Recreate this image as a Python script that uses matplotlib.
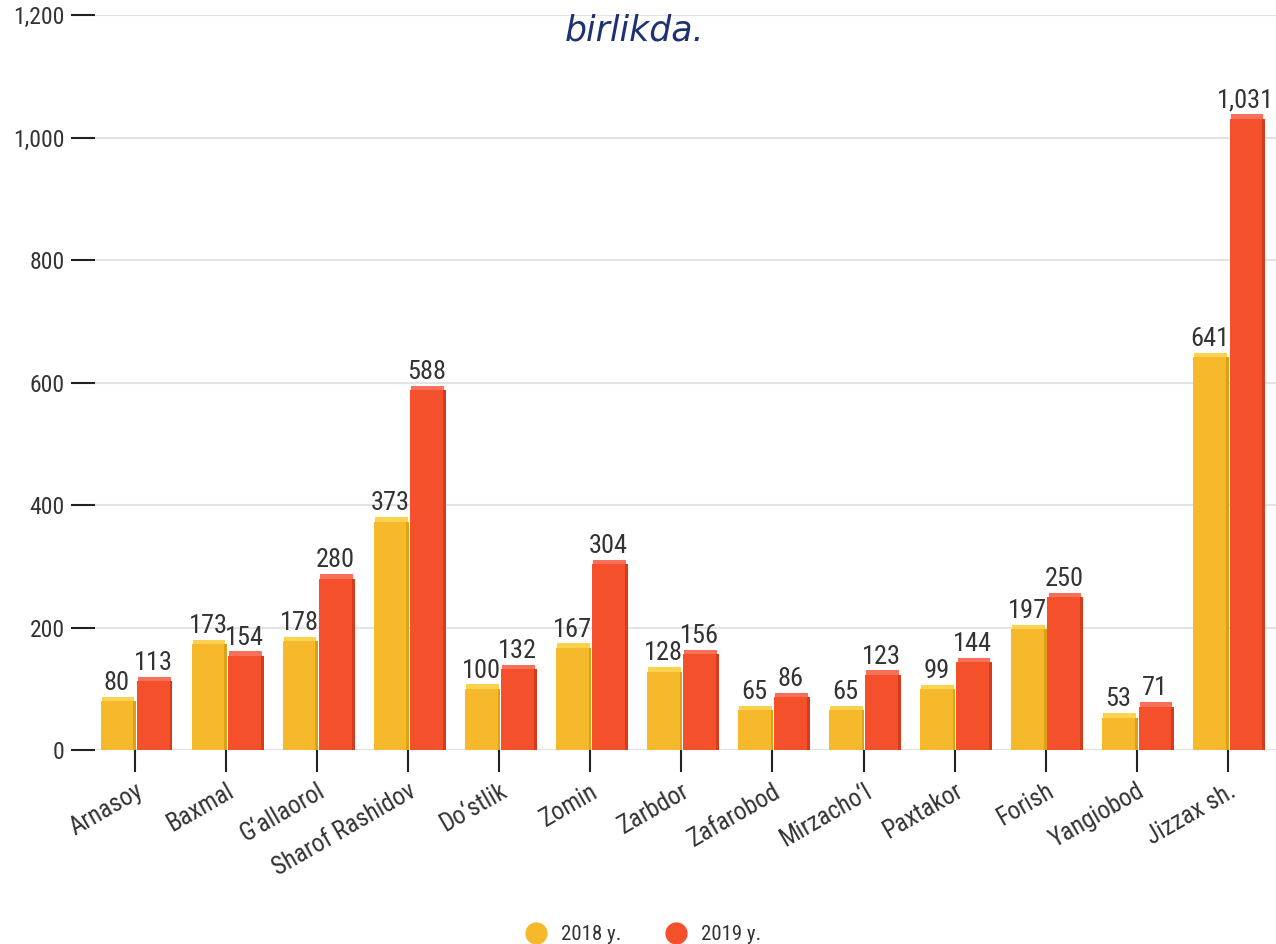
import matplotlib
matplotlib.use('Agg')
import matplotlib.pyplot as plt
import numpy as np

districts = ["Arnasoy", "Baxmal", "G‘allaorol", "Sharof Rashidov", "Do‘stlik", "Zomin",
             "Zarbdor", "Zafarobod", "Mirzacho‘l", "Paxtakor", "Forish", "Yangiobod", "Jizzax sh."]
v2018 = [80, 173, 178, 373, 100, 167, 128, 65, 65, 99, 197, 53, 641]
v2019 = [113, 154, 280, 588, 132, 304, 156, 86, 123, 144, 250, 71, 1031]
series_names = ["2018 y.", "2019 y."]

plt.rcParams['font.family'] = ['Roboto Condensed', 'Liberation Sans Narrow', 'Roboto', 'DejaVu Sans']

colors = ["#F6B92B", "#F5502C"]
tops = ["#FBD24E", "#F9705A"]
sides = ["#DDA114", "#D63C1C"]

fig = plt.figure(figsize=(12.76, 9.44), dpi=100)
ax = fig.add_axes([0.0745, 0.2055, 0.9255, 0.7785])

x = np.arange(len(districts))
w = 0.36
offs = [-0.2, 0.2]
for vals, off, c, ct, cs in zip([v2018, v2019], offs, colors, tops, sides):
    ax.bar(x + off, vals, width=w, color=c, zorder=3)
    # small side face and top face for the 3d look
    ax.bar(x + off + w / 2 + 0.015, vals, width=0.03, color=cs, zorder=3)
    ax.bar(x + off + 0.012, [7] * len(vals), bottom=vals, width=w, color=ct, zorder=3)
    for xi, v in zip(x + off, vals):
        ax.text(xi, v + 10, f"{v:,}", ha='center', va='bottom', fontsize=19, color='#333333', zorder=4)

ax.set_xlim(-0.44, 12.53)
ax.set_ylim(0, 1200)
ax.set_yticks(range(0, 1201, 200))
ax.set_yticklabels([f"{t:,}" for t in range(0, 1201, 200)])
ax.yaxis.grid(True, color='#e3e3e3', linewidth=1.5, zorder=0)
ax.set_axisbelow(True)
for s in ax.spines.values():
    s.set_visible(False)
ax.tick_params(axis='y', length=17, width=1.5, color='#222222', labelsize=17, labelcolor='#333333', pad=5)
ax.set_xticks(x)
ax.set_xticklabels(districts, rotation=30, ha='right', rotation_mode='anchor')
ax.tick_params(axis='x', length=16, width=1.5, color='#222222', labelsize=18, labelcolor='#333333', pad=5)

fig.text(0.497, 0.968, "birlikda.", ha='center', va='center', fontsize=25, style='italic',
         color='#1f3170', family=['DejaVu Sans'])

handles = [plt.Line2D([], [], marker='o', linestyle='', markersize=15, color=c) for c in colors]
fig.legend(handles, series_names, loc='lower center', bbox_to_anchor=(0.5, -0.02), ncol=2,
           frameon=False, fontsize=15, handletextpad=0.2, columnspacing=1.6, labelcolor='#333333')

fig.savefig('out.png', dpi=100)
